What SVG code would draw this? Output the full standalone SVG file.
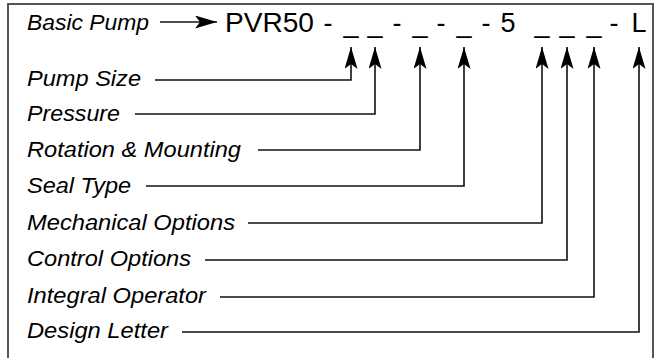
<svg xmlns="http://www.w3.org/2000/svg" width="654" height="358" viewBox="0 0 654 358">
<style>
.lbl{font-family:"Liberation Sans",Arial,sans-serif;font-style:italic;font-size:22px;fill:#000}
.code{font-family:"Liberation Sans",Arial,sans-serif;font-size:27px;fill:#000;text-anchor:middle}
.con{fill:none;stroke:#111;stroke-width:1.6}
</style>
<defs>
<marker id="ah" markerUnits="userSpaceOnUse" viewBox="0 0 22 13" refX="22" refY="6.5" markerWidth="22" markerHeight="13" orient="auto">
<path d="M0,0 L22,6.5 L0,13 L5,6.5 z" fill="#000"/>
</marker>
</defs>
<rect x="8" y="4" width="645" height="360" fill="#fff" stroke="#555" stroke-width="2"/>
<g id="code">
<text class="code" x="225" y="32" style="text-anchor:start" textLength="89" lengthAdjust="spacingAndGlyphs">PVR50</text>
<text class="code" x="328" y="32">-</text>
<text class="code" x="351" y="32">_</text>
<text class="code" x="375" y="32">_</text>
<text class="code" x="397" y="32">-</text>
<text class="code" x="420" y="32">_</text>
<text class="code" x="441" y="32">-</text>
<text class="code" x="464" y="32">_</text>
<text class="code" x="486" y="32">-</text>
<text class="code" x="508" y="32">5</text>
<text class="code" x="542" y="32">_</text>
<text class="code" x="567" y="32">_</text>
<text class="code" x="594" y="32">_</text>
<text class="code" x="614" y="32">-</text>
<text class="code" x="639" y="32">L</text>
</g>
<g id="basic-pump"><text class="lbl" x="27" y="30" textLength="122" lengthAdjust="spacingAndGlyphs">Basic Pump</text></g>
<g id="pump-size"><text class="lbl" x="27" y="86" textLength="114" lengthAdjust="spacingAndGlyphs">Pump Size</text></g>
<g id="pressure"><text class="lbl" x="27" y="121" textLength="93" lengthAdjust="spacingAndGlyphs">Pressure</text></g>
<g id="rotation"><text class="lbl" x="27" y="157" textLength="214" lengthAdjust="spacingAndGlyphs">Rotation &amp; Mounting</text></g>
<g id="seal"><text class="lbl" x="27" y="193" textLength="104" lengthAdjust="spacingAndGlyphs">Seal Type</text></g>
<g id="mechanical"><text class="lbl" x="27" y="230" textLength="208" lengthAdjust="spacingAndGlyphs">Mechanical Options</text></g>
<g id="control"><text class="lbl" x="27" y="266" textLength="164" lengthAdjust="spacingAndGlyphs">Control Options</text></g>
<g id="integral"><text class="lbl" x="27" y="303" textLength="179" lengthAdjust="spacingAndGlyphs">Integral Operator</text></g>
<g id="design"><text class="lbl" x="27" y="338" textLength="141" lengthAdjust="spacingAndGlyphs">Design Letter</text></g>
<g id="connectors">
<path class="con" d="M160,22 H217" marker-end="url(#ah)"/>
<path class="con" d="M155,80 H351 V47" marker-end="url(#ah)"/>
<path class="con" d="M135,114 H375 V47" marker-end="url(#ah)"/>
<path class="con" d="M258,150 H420 V47" marker-end="url(#ah)"/>
<path class="con" d="M146,186 H464 V47" marker-end="url(#ah)"/>
<path class="con" d="M248,223 H542 V47" marker-end="url(#ah)"/>
<path class="con" d="M205,260 H567 V47" marker-end="url(#ah)"/>
<path class="con" d="M220,297 H594 V47" marker-end="url(#ah)"/>
<path class="con" d="M182,332 H639 V47" marker-end="url(#ah)"/>
</g>
</svg>
